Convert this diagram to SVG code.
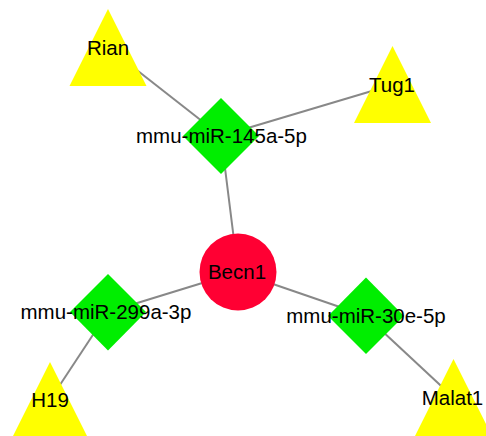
<svg xmlns="http://www.w3.org/2000/svg" width="486" height="436" viewBox="0 0 486 436">
<style>
.e{stroke:#888888;stroke-width:2;fill:none}
.tri{fill:#FFFF00}
.dia{fill:#00EE00}
.cir{fill:#FF0033}
text{font-family:"Liberation Sans",Arial,sans-serif;font-size:20.5px;fill:#000;text-anchor:middle}
</style>
<rect width="486" height="436" fill="#fff"/>
<g id="edges">
<line class="e" x1="108" y1="47.5" x2="221" y2="136"/>
<line class="e" x1="392" y1="85" x2="221" y2="136"/>
<line class="e" x1="221" y1="136" x2="238" y2="272"/>
<line class="e" x1="238" y1="272" x2="108" y2="312"/>
<line class="e" x1="238" y1="272" x2="366" y2="316"/>
<line class="e" x1="108" y1="312" x2="50" y2="400"/>
<line class="e" x1="366" y1="316" x2="453" y2="397"/>
</g>
<g id="Rian">
<polygon class="tri" points="108,9 69.5,86 146.5,86"/>
<text x="108" y="55">Rian</text>
</g>
<g id="Tug1">
<polygon class="tri" points="392.5,46 354,123 431,123"/>
<text x="392" y="92">Tug1</text>
</g>
<g id="mmu-miR-145a-5p">
<polygon class="dia" points="221,98 259,136 221,174 183,136"/>
<text x="221.5" y="143">mmu-miR-145a-5p</text>
</g>
<g id="Becn1">
<circle class="cir" cx="238" cy="272" r="38.5"/>
<text x="237" y="279">Becn1</text>
</g>
<g id="mmu-miR-299a-3p">
<polygon class="dia" points="108,274 146,312 108,350.5 70,312"/>
<text x="106" y="319">mmu-miR-299a-3p</text>
</g>
<g id="mmu-miR-30e-5p">
<polygon class="dia" points="366,277.5 404,316 366,354 328,316"/>
<text x="366" y="323">mmu-miR-30e-5p</text>
</g>
<g id="H19">
<polygon class="tri" points="50,362 11.5,439 88.5,439"/>
<text x="50" y="406.5">H19</text>
</g>
<g id="Malat1">
<polygon class="tri" points="453.5,359 415,436 492,436"/>
<text x="452.5" y="405">Malat1</text>
</g>
</svg>
